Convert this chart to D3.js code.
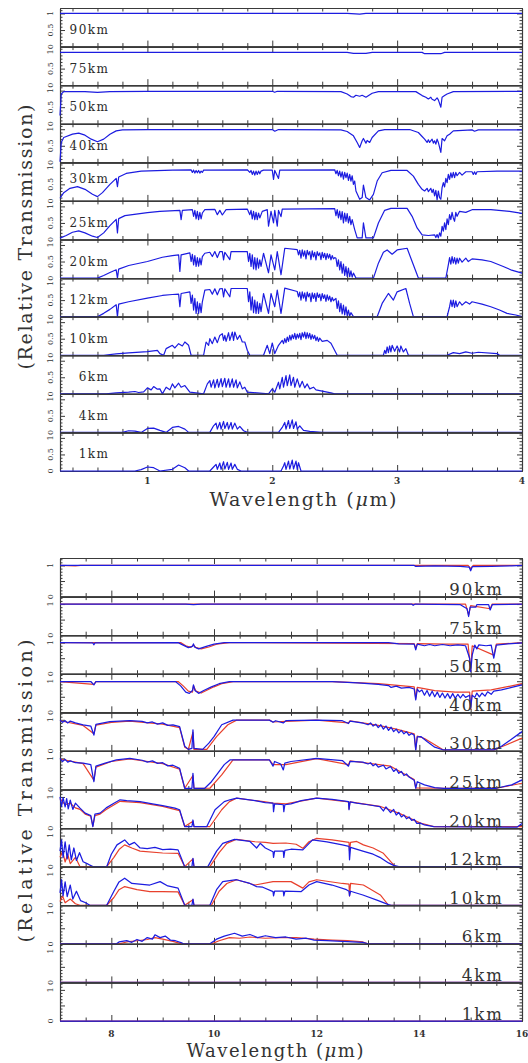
<!DOCTYPE html>
<html><head><meta charset="utf-8">
<script src="https://cdn.jsdelivr.net/npm/d3@7/dist/d3.min.js"></script>
<style>body{margin:0;background:#fff}svg{display:block}</style>
</head><body>
<script>
// ---------------- DATA: near-IR (top chart), [wavelength µm, relative transmission] ----------------
const topLabels = ['90km','75km','50km','40km','30km','25km','20km','12km','10km','6km','4km','1km'];
const topXTicks = [1,2,3,4];
const topYLabels = [0,0.5,1];

const t90 = [[0.3,1],[2.6,1],[2.7,0.98],[2.75,1],[4,1]];
const t75 = [[0.3,0.99],[2.6,0.99],[2.65,0.96],[2.75,0.96],[2.8,0.99],[3.2,0.99],[3.22,0.95],[3.35,0.95],[3.38,0.99],[4,0.99]];
const t50 = [[0.3,0.25],[0.31,0.9],[0.33,0.97],[0.5,0.97],[0.6,0.95],[0.7,0.97],[1.0,0.98],[2.0,0.98],[2.02,0.95],[2.04,0.98],[2.55,0.97],[2.6,0.9],[2.63,0.82],[2.65,0.8],[2.67,0.86],[2.7,0.83],[2.72,0.86],[2.75,0.8],[2.8,0.92],[2.85,0.97],[3.15,0.97],[3.2,0.85],[3.23,0.8],[3.25,0.75],[3.27,0.8],[3.28,0.74],[3.3,0.7],[3.32,0.78],[3.33,0.72],[3.35,0.5],[3.36,0.8],[3.38,0.85],[3.4,0.9],[3.45,0.97],[4,0.98]];
const t40 = [[0.3,0.02],[0.31,0.6],[0.33,0.75],[0.4,0.85],[0.45,0.88],[0.5,0.82],[0.55,0.7],[0.6,0.62],[0.65,0.7],[0.7,0.85],[0.75,0.95],[0.8,0.98],[1.0,0.99],[2.0,0.99],[2.02,0.94],[2.05,0.99],[2.55,0.98],[2.6,0.93],[2.62,0.88],[2.65,0.8],[2.68,0.6],[2.7,0.45],[2.72,0.65],[2.73,0.72],[2.75,0.58],[2.76,0.66],[2.78,0.6],[2.8,0.75],[2.85,0.95],[2.9,0.99],[3.1,0.99],[3.17,0.9],[3.2,0.78],[3.22,0.7],[3.24,0.6],[3.25,0.68],[3.26,0.6],[3.28,0.7],[3.29,0.58],[3.3,0.65],[3.31,0.55],[3.32,0.7],[3.33,0.6],[3.35,0.3],[3.36,0.72],[3.38,0.65],[3.4,0.8],[3.42,0.85],[3.45,0.95],[3.6,0.98],[3.62,0.94],[3.65,0.98],[4,0.98]];
const t30 = [[0.3,0.08],[0.33,0.25],[0.38,0.38],[0.44,0.43],[0.5,0.35],[0.56,0.2],[0.6,0.13],[0.64,0.25],[0.7,0.5],[0.75,0.68],[0.76,0.43],[0.77,0.72],[0.83,0.83],[0.95,0.9],[1.2,0.93],[1.35,0.94],[1.36,0.86],[1.37,0.93],[1.38,0.84],[1.39,0.92],[1.4,0.85],[1.41,0.92],[1.42,0.84],[1.43,0.9],[1.44,0.86],[1.45,0.93],[1.8,0.94],[1.82,0.86],[1.83,0.92],[1.84,0.8],[1.85,0.9],[1.86,0.78],[1.87,0.9],[1.88,0.8],[1.89,0.9],[1.9,0.82],[1.91,0.9],[1.93,0.93],[2.0,0.93],[2.01,0.65],[2.02,0.92],[2.05,0.68],[2.06,0.93],[2.5,0.94],[2.51,0.82],[2.52,0.92],[2.53,0.76],[2.54,0.9],[2.55,0.72],[2.56,0.88],[2.57,0.66],[2.58,0.86],[2.59,0.7],[2.6,0.84],[2.61,0.62],[2.62,0.8],[2.63,0.6],[2.64,0.76],[2.65,0.5],[2.66,0.6],[2.67,0.3],[2.7,0.05],[2.72,0.1],[2.73,0.48],[2.75,0.1],[2.78,0.03],[2.81,0.2],[2.84,0.6],[2.88,0.85],[2.95,0.92],[3.08,0.92],[3.13,0.75],[3.17,0.5],[3.2,0.35],[3.22,0.3],[3.24,0.38],[3.25,0.28],[3.27,0.38],[3.28,0.25],[3.29,0.35],[3.3,0.15],[3.31,0.32],[3.32,0.03],[3.33,0.3],[3.34,0.1],[3.35,0.05],[3.36,0.4],[3.37,0.55],[3.38,0.42],[3.39,0.68],[3.4,0.55],[3.41,0.8],[3.42,0.65],[3.43,0.85],[3.44,0.7],[3.45,0.86],[3.46,0.7],[3.47,0.86],[3.48,0.76],[3.5,0.86],[3.52,0.78],[3.55,0.88],[3.6,0.88],[3.61,0.8],[3.62,0.88],[3.63,0.8],[3.64,0.88],[3.8,0.9],[4,0.9]];
const t25 = [[0.3,0.04],[0.35,0.12],[0.4,0.22],[0.45,0.26],[0.5,0.2],[0.56,0.1],[0.6,0.06],[0.65,0.2],[0.7,0.42],[0.75,0.61],[0.76,0.2],[0.77,0.63],[0.82,0.72],[1.0,0.81],[1.1,0.85],[1.26,0.88],[1.27,0.6],[1.28,0.88],[1.36,0.9],[1.37,0.7],[1.38,0.88],[1.39,0.62],[1.4,0.85],[1.41,0.6],[1.42,0.82],[1.43,0.62],[1.44,0.8],[1.46,0.9],[1.54,0.91],[1.56,0.75],[1.58,0.88],[1.6,0.74],[1.63,0.9],[1.8,0.92],[1.82,0.75],[1.83,0.88],[1.84,0.62],[1.85,0.85],[1.86,0.6],[1.87,0.82],[1.88,0.6],[1.89,0.8],[1.9,0.65],[1.92,0.85],[1.96,0.9],[1.97,0.4],[1.99,0.85],[2.01,0.5],[2.02,0.88],[2.04,0.4],[2.05,0.88],[2.07,0.69],[2.08,0.92],[2.5,0.93],[2.51,0.72],[2.52,0.9],[2.53,0.65],[2.54,0.86],[2.55,0.6],[2.56,0.84],[2.57,0.5],[2.58,0.8],[2.59,0.55],[2.6,0.78],[2.61,0.5],[2.62,0.7],[2.63,0.45],[2.64,0.6],[2.66,0.3],[2.68,0.05],[2.72,0.05],[2.73,0.5],[2.75,0.05],[2.81,0.05],[2.85,0.5],[2.9,0.88],[2.95,0.94],[3.08,0.94],[3.12,0.7],[3.16,0.35],[3.2,0.14],[3.25,0.12],[3.3,0.14],[3.31,0.06],[3.32,0.15],[3.33,0.05],[3.34,0.2],[3.35,0.1],[3.36,0.4],[3.37,0.25],[3.38,0.5],[3.39,0.3],[3.4,0.62],[3.41,0.45],[3.42,0.75],[3.43,0.6],[3.44,0.82],[3.45,0.65],[3.46,0.55],[3.47,0.82],[3.48,0.7],[3.5,0.85],[3.55,0.82],[3.6,0.9],[3.75,0.9],[3.9,0.85],[4,0.79]];
const t20 = [[0.3,0],[0.6,0],[0.65,0.08],[0.7,0.17],[0.75,0.25],[0.76,0],[0.77,0.27],[0.85,0.38],[1.0,0.5],[1.12,0.63],[1.2,0.68],[1.25,0.7],[1.26,0.2],[1.27,0.7],[1.34,0.76],[1.35,0.5],[1.36,0.72],[1.37,0.4],[1.38,0.68],[1.39,0.35],[1.4,0.62],[1.41,0.36],[1.42,0.6],[1.43,0.4],[1.44,0.65],[1.46,0.75],[1.5,0.78],[1.52,0.65],[1.54,0.8],[1.56,0.62],[1.58,0.8],[1.6,0.8],[1.61,0.55],[1.62,0.78],[1.66,0.56],[1.67,0.8],[1.8,0.8],[1.81,0.5],[1.82,0.75],[1.83,0.35],[1.84,0.7],[1.85,0.28],[1.86,0.62],[1.87,0.25],[1.88,0.6],[1.89,0.3],[1.9,0.55],[1.91,0.35],[1.93,0.75],[1.97,0.16],[1.99,0.7],[2.02,0.25],[2.04,0.8],[2.07,0.1],[2.1,0.9],[2.2,0.86],[2.21,0.7],[2.22,0.84],[2.23,0.6],[2.24,0.85],[2.25,0.66],[2.26,0.82],[2.27,0.58],[2.28,0.84],[2.29,0.7],[2.3,0.8],[2.31,0.56],[2.32,0.82],[2.33,0.64],[2.34,0.78],[2.35,0.55],[2.36,0.8],[2.37,0.68],[2.38,0.76],[2.39,0.56],[2.4,0.78],[2.41,0.62],[2.42,0.75],[2.43,0.56],[2.44,0.74],[2.45,0.6],[2.46,0.72],[2.47,0.55],[2.48,0.68],[2.49,0.58],[2.5,0.62],[2.51,0.6],[2.52,0.35],[2.53,0.55],[2.54,0.25],[2.55,0.5],[2.56,0.15],[2.57,0.42],[2.58,0.08],[2.59,0.35],[2.6,0.05],[2.61,0.3],[2.62,0.04],[2.63,0.22],[2.64,0.03],[2.65,0.15],[2.67,0],[2.81,0],[2.85,0.45],[2.89,0.78],[2.92,0.85],[2.96,0.72],[3.0,0.85],[3.08,0.9],[3.12,0.5],[3.17,0],[3.39,0],[3.41,0.4],[3.42,0.62],[3.43,0.42],[3.44,0.65],[3.45,0.45],[3.46,0.62],[3.47,0.42],[3.48,0.6],[3.49,0.45],[3.5,0.6],[3.52,0.48],[3.55,0.6],[3.57,0.5],[3.6,0.58],[3.68,0.55],[3.75,0.5],[3.85,0.35],[3.91,0.25],[4,0.15]];
const t12 = [[0.3,0],[0.6,0],[0.65,0.1],[0.7,0.22],[0.75,0.36],[0.76,0],[0.77,0.38],[0.85,0.45],[1.0,0.56],[1.12,0.64],[1.2,0.67],[1.25,0.68],[1.26,0.3],[1.27,0.7],[1.34,0.75],[1.35,0.4],[1.36,0.65],[1.37,0.2],[1.38,0.55],[1.39,0.1],[1.4,0.45],[1.41,0.1],[1.42,0.4],[1.43,0.12],[1.44,0.45],[1.46,0.8],[1.5,0.82],[1.52,0.68],[1.54,0.84],[1.56,0.66],[1.58,0.84],[1.6,0.85],[1.61,0.6],[1.62,0.84],[1.66,0.6],[1.67,0.85],[1.8,0.85],[1.81,0.45],[1.82,0.75],[1.83,0.2],[1.84,0.6],[1.85,0.12],[1.86,0.5],[1.87,0.1],[1.88,0.45],[1.89,0.1],[1.9,0.4],[1.91,0.15],[1.93,0.7],[1.97,0.1],[1.99,0.7],[2.02,0.3],[2.04,0.8],[2.07,0.1],[2.1,0.86],[2.2,0.76],[2.21,0.6],[2.22,0.74],[2.23,0.5],[2.24,0.75],[2.25,0.56],[2.26,0.72],[2.27,0.47],[2.28,0.74],[2.29,0.6],[2.3,0.7],[2.31,0.45],[2.32,0.72],[2.33,0.55],[2.34,0.7],[2.35,0.46],[2.36,0.72],[2.37,0.58],[2.38,0.68],[2.39,0.48],[2.4,0.7],[2.41,0.55],[2.42,0.66],[2.43,0.46],[2.44,0.66],[2.45,0.5],[2.46,0.62],[2.47,0.45],[2.48,0.58],[2.49,0.48],[2.5,0.52],[2.51,0.55],[2.52,0.25],[2.53,0.48],[2.54,0.15],[2.55,0.4],[2.56,0.08],[2.57,0.35],[2.58,0.05],[2.59,0.3],[2.6,0.03],[2.61,0.2],[2.62,0.02],[2.63,0.12],[2.65,0],[2.84,0],[2.88,0.4],[2.93,0.7],[2.97,0.5],[3.0,0.75],[3.07,0.85],[3.1,0.4],[3.13,0],[3.4,0],[3.42,0.3],[3.43,0.5],[3.44,0.3],[3.45,0.5],[3.46,0.28],[3.47,0.48],[3.48,0.3],[3.5,0.45],[3.52,0.35],[3.55,0.45],[3.58,0.38],[3.6,0.45],[3.68,0.38],[3.75,0.3],[3.82,0.2],[3.88,0.1],[3.95,0.05],[4,0]];
const t10 = [[0.3,0],[0.65,0],[0.75,0.04],[0.85,0.07],[1.0,0.11],[1.08,0.15],[1.1,0.05],[1.13,0],[1.15,0.2],[1.2,0.3],[1.22,0.22],[1.25,0.35],[1.28,0.28],[1.3,0.4],[1.33,0.3],[1.35,0],[1.45,0],[1.47,0.4],[1.49,0.3],[1.5,0.5],[1.52,0.35],[1.54,0.55],[1.56,0.38],[1.58,0.6],[1.6,0.65],[1.61,0.45],[1.62,0.6],[1.63,0.42],[1.65,0.68],[1.66,0.45],[1.68,0.7],[1.69,0.45],[1.7,0.7],[1.72,0.48],[1.74,0.6],[1.76,0.4],[1.78,0.4],[1.8,0.15],[1.82,0],[1.93,0],[1.96,0.3],[1.98,0.05],[2.0,0.37],[2.02,0.05],[2.05,0.3],[2.08,0.45],[2.09,0.35],[2.1,0.5],[2.11,0.38],[2.12,0.55],[2.13,0.42],[2.14,0.6],[2.15,0.46],[2.16,0.62],[2.17,0.5],[2.18,0.66],[2.19,0.48],[2.2,0.64],[2.21,0.52],[2.22,0.66],[2.23,0.47],[2.24,0.68],[2.25,0.55],[2.26,0.7],[2.27,0.5],[2.28,0.68],[2.29,0.52],[2.3,0.66],[2.31,0.48],[2.32,0.62],[2.33,0.5],[2.34,0.6],[2.35,0.44],[2.36,0.55],[2.37,0.42],[2.38,0.52],[2.4,0.42],[2.44,0.45],[2.47,0.36],[2.52,0],[2.89,0],[2.9,0.15],[2.91,0.05],[2.92,0.25],[2.93,0.08],[2.94,0.28],[2.95,0.1],[2.96,0.3],[2.98,0.12],[3.0,0.28],[3.02,0.1],[3.03,0.28],[3.05,0.1],[3.07,0.2],[3.09,0],[3.4,0],[3.45,0.08],[3.5,0.05],[3.55,0.1],[3.6,0.06],[3.65,0.09],[3.8,0.05],[3.82,0],[4,0]];
const t6 = [[0.3,0],[0.67,0],[0.75,0.03],[0.85,0.05],[0.9,0.07],[0.93,0.04],[0.97,0.06],[1.0,0.18],[1.03,0.12],[1.05,0.22],[1.08,0.14],[1.1,0.15],[1.12,0],[1.15,0.2],[1.18,0.12],[1.2,0.3],[1.22,0.18],[1.25,0.32],[1.27,0.2],[1.3,0.25],[1.34,0.05],[1.45,0],[1.48,0.3],[1.5,0.4],[1.51,0.2],[1.53,0.42],[1.54,0.18],[1.56,0.44],[1.57,0.2],[1.59,0.46],[1.6,0.22],[1.62,0.47],[1.63,0.2],[1.65,0.45],[1.66,0.2],[1.68,0.45],[1.69,0.2],[1.71,0.42],[1.72,0.18],[1.74,0.36],[1.76,0.15],[1.78,0.2],[1.8,0.05],[1.97,0],[2.0,0.15],[2.02,0.05],[2.05,0.35],[2.06,0.15],[2.08,0.5],[2.09,0.2],[2.11,0.55],[2.12,0.25],[2.14,0.57],[2.15,0.25],[2.17,0.5],[2.18,0.2],[2.2,0.45],[2.22,0.2],[2.24,0.38],[2.26,0.18],[2.28,0.3],[2.3,0.15],[2.33,0.2],[2.35,0.12],[2.4,0.08],[2.47,0.03],[2.5,0],[4,0]];
const t4 = [[0.3,0],[0.8,0],[0.85,0.05],[0.9,0.04],[0.95,0],[1.0,0.12],[1.05,0.13],[1.1,0.06],[1.15,0],[1.2,0.15],[1.25,0.18],[1.3,0.1],[1.33,0],[1.5,0],[1.53,0.2],[1.55,0.28],[1.56,0.1],[1.58,0.3],[1.59,0.1],[1.61,0.33],[1.62,0.12],[1.64,0.3],[1.65,0.1],[1.67,0.3],[1.68,0.1],[1.7,0.28],[1.72,0.1],[1.74,0.18],[1.77,0.05],[1.8,0],[2.05,0],[2.08,0.15],[2.1,0.3],[2.11,0.1],[2.13,0.36],[2.14,0.12],[2.16,0.38],[2.17,0.12],[2.19,0.32],[2.2,0.1],[2.22,0.2],[2.25,0.06],[2.3,0.03],[2.4,0],[4,0]];
const t1 = [[0.3,0],[0.9,0],[0.95,0.04],[1.0,0.12],[1.05,0.1],[1.1,0],[1.2,0.05],[1.25,0.18],[1.3,0.1],[1.33,0],[1.5,0],[1.53,0.12],[1.55,0.2],[1.56,0.05],[1.58,0.24],[1.59,0.05],[1.61,0.28],[1.62,0.06],[1.64,0.26],[1.65,0.05],[1.67,0.24],[1.68,0.05],[1.7,0.2],[1.72,0.05],[1.75,0],[2.07,0],[2.09,0.15],[2.1,0.25],[2.11,0.05],[2.13,0.3],[2.14,0.06],[2.16,0.33],[2.17,0.06],[2.19,0.3],[2.2,0.05],[2.21,0.25],[2.23,0],[4,0]];
const topSeries = [t90,t75,t50,t40,t30,t25,t20,t12,t10,t6,t4,t1];

// ---------------- DATA: thermal IR (bottom chart), blue and red series ----------------
const botLabels = ['90km','75km','50km','40km','30km','25km','20km','12km','10km','6km','4km','1km'];
const botXTicks = [8,10,12,14,16];
const botYLabels = [0,1];

const b90 = [[7,1],[13.9,1],[13.93,0.97],[14.3,0.99],[14.8,0.97],[14.97,0.95],[15.0,0.83],[15.03,0.96],[15.4,0.97],[15.8,0.99],[16,1]];
const r90 = [[7,1],[7.3,0.99],[7.4,1],[14.95,1],[15.0,0.9],[15.05,1],[16,1]];
const b75 = [[7,1],[9.45,1],[9.6,0.98],[9.75,1],[13.85,1],[13.88,0.96],[13.92,1],[14.8,0.98],[14.93,0.85],[14.96,0.6],[14.99,0.9],[15.1,0.9],[15.12,0.98],[15.35,0.98],[15.38,0.81],[15.42,0.98],[16,1]];
const r75 = [[7,1],[14.9,1],[14.96,0.65],[15.0,0.95],[15.38,0.85],[15.42,1],[16,1]];
const b50 = [[7,1],[7.64,0.99],[7.66,0.93],[7.68,0.99],[9.3,1],[9.4,0.92],[9.5,0.84],[9.58,0.88],[9.6,0.96],[9.62,0.86],[9.7,0.8],[9.85,0.88],[10.0,0.95],[10.2,1],[13.4,1],[13.6,0.96],[13.9,0.95],[13.93,0.77],[13.96,0.95],[14.1,0.9],[14.2,0.94],[14.3,0.9],[14.45,0.94],[14.6,0.9],[14.75,0.93],[14.9,0.9],[14.98,0.5],[15.0,0.07],[15.03,0.6],[15.08,0.92],[15.12,0.8],[15.16,0.93],[15.3,0.9],[15.4,0.92],[15.45,0.5],[15.5,0.92],[15.8,0.97],[16,0.99]];
const r50 = [[7,1],[9.35,1],[9.45,0.9],[9.55,0.85],[9.6,0.93],[9.65,0.84],[9.75,0.8],[9.9,0.86],[10.05,0.95],[10.3,1],[13.9,0.97],[13.93,0.82],[13.96,0.97],[14.5,0.95],[14.95,0.95],[15.0,0.1],[15.03,0.9],[15.45,0.6],[15.5,0.95],[16,1]];
const b40 = [[7,0.99],[7.6,0.99],[7.66,0.88],[7.7,0.99],[9.25,0.99],[9.35,0.85],[9.45,0.65],[9.52,0.61],[9.58,0.7],[9.6,0.88],[9.63,0.7],[9.7,0.61],[9.8,0.7],[9.95,0.82],[10.1,0.92],[10.3,0.99],[12.3,0.99],[12.8,0.95],[13.2,0.9],[13.4,0.86],[13.45,0.8],[13.55,0.84],[13.65,0.78],[13.8,0.8],[13.9,0.75],[13.93,0.4],[13.96,0.75],[14.0,0.66],[14.05,0.72],[14.1,0.55],[14.15,0.7],[14.2,0.52],[14.25,0.68],[14.3,0.5],[14.35,0.65],[14.4,0.48],[14.45,0.62],[14.5,0.46],[14.55,0.6],[14.6,0.45],[14.65,0.6],[14.7,0.45],[14.75,0.58],[14.8,0.46],[14.85,0.58],[14.9,0.48],[14.98,0.55],[15.0,0.14],[15.03,0.55],[15.08,0.48],[15.12,0.62],[15.17,0.5],[15.22,0.62],[15.28,0.52],[15.33,0.66],[15.4,0.58],[15.45,0.68],[15.6,0.72],[15.8,0.8],[16,0.88]];
const r40 = [[7,0.99],[7.66,0.9],[7.7,0.99],[9.3,0.99],[9.4,0.85],[9.5,0.68],[9.58,0.65],[9.6,0.85],[9.65,0.68],[9.75,0.62],[9.85,0.7],[10.0,0.82],[10.15,0.92],[10.4,0.99],[12.3,0.99],[13.2,0.92],[13.9,0.82],[13.93,0.45],[13.96,0.8],[14.3,0.7],[14.7,0.65],[14.98,0.65],[15.0,0.1],[15.03,0.68],[15.4,0.72],[15.8,0.85],[16,0.92]];
const b30 = [[7,0.99],[7.05,0.92],[7.1,0.97],[7.15,0.9],[7.2,0.96],[7.3,0.9],[7.45,0.84],[7.6,0.8],[7.66,0.51],[7.7,0.85],[7.97,0.94],[8.36,0.97],[8.6,0.95],[8.7,0.9],[8.8,0.93],[8.9,0.86],[9.0,0.9],[9.1,0.82],[9.2,0.84],[9.33,0.78],[9.43,0.15],[9.5,0.05],[9.57,0.08],[9.59,0.68],[9.61,0.08],[9.78,0.05],[9.9,0.25],[10.0,0.46],[10.15,0.84],[10.37,0.99],[11.08,0.99],[11.15,0.92],[11.2,0.97],[11.35,0.9],[11.4,0.97],[12.0,0.99],[12.5,0.97],[12.62,0.88],[12.65,0.96],[12.91,0.89],[13.0,0.84],[13.05,0.9],[13.1,0.8],[13.15,0.86],[13.2,0.75],[13.25,0.84],[13.3,0.7],[13.35,0.8],[13.4,0.66],[13.45,0.76],[13.5,0.62],[13.55,0.7],[13.6,0.58],[13.65,0.66],[13.7,0.55],[13.75,0.62],[13.8,0.5],[13.85,0.56],[13.9,0.5],[13.93,0.03],[13.96,0.45],[14.03,0.46],[14.15,0.3],[14.3,0.12],[14.47,0.03],[15.45,0.03],[15.6,0.15],[15.8,0.38],[16,0.62]];
const r30 = [[7,0.97],[7.45,0.82],[7.66,0.55],[7.7,0.83],[8.0,0.92],[8.36,0.96],[9.0,0.86],[9.33,0.75],[9.43,0.12],[9.5,0.05],[9.59,0.6],[9.61,0.05],[9.86,0.05],[10.05,0.46],[10.27,0.84],[10.44,0.99],[11.08,0.99],[11.15,0.93],[11.4,0.95],[12.0,0.99],[12.62,0.9],[12.65,0.97],[13.2,0.82],[13.55,0.7],[13.9,0.55],[13.93,0.05],[13.96,0.48],[14.1,0.4],[14.47,0.03],[15.45,0.03],[15.7,0.2],[16,0.41]];
const b25 = [[7,1.0],[7.05,0.9],[7.1,0.97],[7.15,0.88],[7.2,0.92],[7.3,0.86],[7.45,0.85],[7.6,0.8],[7.66,0.25],[7.7,0.75],[7.88,0.85],[8.1,0.95],[8.36,1.0],[8.6,0.94],[8.7,0.88],[8.8,0.92],[8.9,0.84],[9.0,0.86],[9.1,0.76],[9.2,0.78],[9.33,0.68],[9.43,0.04],[9.57,0.04],[9.59,0.52],[9.61,0.04],[9.82,0.04],[9.95,0.25],[10.05,0.47],[10.2,0.8],[10.31,0.95],[11.08,0.95],[11.15,0.75],[11.18,0.9],[11.3,0.82],[11.35,0.63],[11.38,0.85],[11.5,0.9],[12.0,1.0],[12.5,0.93],[12.62,0.75],[12.65,0.9],[12.9,0.88],[13.0,0.82],[13.05,0.86],[13.1,0.76],[13.15,0.82],[13.2,0.72],[13.3,0.78],[13.35,0.66],[13.44,0.74],[13.5,0.58],[13.55,0.66],[13.6,0.52],[13.65,0.58],[13.7,0.45],[13.75,0.5],[13.8,0.4],[13.9,0.3],[13.93,0.04],[13.96,0.25],[14.1,0.15],[14.3,0.06],[14.47,0.04],[15.5,0.04],[15.8,0.15],[16,0.31]];
const r25 = [[7,0.98],[7.45,0.83],[7.66,0.3],[7.7,0.72],[8.0,0.9],[8.36,0.98],[9.0,0.83],[9.33,0.65],[9.43,0.04],[9.59,0.45],[9.61,0.04],[9.92,0.04],[10.15,0.47],[10.37,0.95],[11.08,0.95],[11.15,0.8],[11.4,0.8],[12.0,0.99],[12.62,0.8],[12.65,0.92],[13.44,0.75],[13.9,0.32],[13.93,0.05],[14.47,0.04],[15.5,0.04],[16,0.2]];
const b20 = [[7,1.0],[7.03,0.7],[7.06,0.98],[7.1,0.68],[7.13,0.95],[7.16,0.62],[7.2,0.9],[7.25,0.6],[7.3,0.8],[7.39,0.64],[7.49,0.48],[7.6,0.4],[7.64,0.05],[7.68,0.45],[7.78,0.48],[7.9,0.65],[8.05,0.8],[8.17,0.91],[8.3,0.88],[8.56,0.85],[8.8,0.78],[9.0,0.72],[9.24,0.64],[9.33,0.59],[9.43,0.05],[9.57,0.05],[9.59,0.26],[9.61,0.05],[9.86,0.05],[10.02,0.59],[10.2,0.85],[10.31,0.91],[10.44,0.96],[10.8,0.88],[11.0,0.82],[11.15,0.8],[11.16,0.53],[11.18,0.78],[11.35,0.75],[11.36,0.53],[11.38,0.75],[11.5,0.78],[11.7,0.88],[12.0,0.96],[12.3,0.92],[12.62,0.85],[12.63,0.59],[12.65,0.84],[12.78,0.8],[13.0,0.75],[13.23,0.69],[13.3,0.55],[13.35,0.68],[13.44,0.5],[13.5,0.6],[13.55,0.42],[13.6,0.5],[13.65,0.36],[13.7,0.42],[13.75,0.3],[13.8,0.36],[13.85,0.25],[13.9,0.28],[13.95,0.15],[14.02,0.16],[14.1,0.1],[14.28,0.05],[15.9,0.03],[16,0.15]];
const r20 = [[7,0.95],[7.1,0.75],[7.2,0.8],[7.3,0.65],[7.39,0.6],[7.49,0.45],[7.6,0.38],[7.64,0.06],[7.68,0.4],[7.78,0.45],[7.9,0.6],[8.17,0.86],[8.56,0.82],[9.0,0.7],[9.33,0.56],[9.43,0.05],[9.59,0.22],[9.61,0.05],[9.92,0.05],[10.15,0.59],[10.3,0.85],[10.44,0.96],[11.0,0.84],[11.15,0.8],[11.4,0.78],[12.0,0.96],[12.62,0.84],[12.63,0.62],[12.65,0.84],[13.23,0.7],[13.6,0.48],[14.02,0.16],[14.28,0.05],[16,0.05]];
const b12 = [[7,0.5],[7.03,0.86],[7.06,0.3],[7.1,0.8],[7.14,0.25],[7.18,0.7],[7.22,0.22],[7.27,0.6],[7.32,0.2],[7.38,0.45],[7.45,0.16],[7.55,0.08],[7.64,0],[7.91,0],[8.0,0.4],[8.11,0.7],[8.26,0.86],[8.35,0.7],[8.45,0.78],[8.56,0.6],[8.7,0.58],[8.85,0.62],[9.0,0.55],[9.15,0.56],[9.3,0.54],[9.43,0],[9.57,0],[9.59,0.27],[9.61,0],[9.88,0],[10.05,0.5],[10.17,0.75],[10.4,0.88],[10.7,0.81],[10.83,0.6],[10.9,0.75],[11.0,0.6],[11.15,0.48],[11.16,0.3],[11.18,0.5],[11.35,0.5],[11.36,0.3],[11.38,0.52],[11.5,0.56],[11.73,0.54],[11.92,0.86],[12.2,0.8],[12.5,0.7],[12.63,0.65],[12.64,0.22],[12.66,0.62],[12.9,0.5],[13.1,0.4],[13.23,0.3],[13.4,0.12],[13.5,0.04],[13.6,0],[16,0]];
const r12 = [[7,0.3],[7.05,0.5],[7.1,0.15],[7.15,0.4],[7.2,0.1],[7.3,0.3],[7.39,0],[7.91,0],[8.05,0.3],[8.15,0.55],[8.26,0.7],[8.4,0.6],[8.56,0.5],[9.0,0.44],[9.3,0.43],[9.43,0],[9.59,0.25],[9.61,0],[9.92,0],[10.1,0.45],[10.25,0.75],[10.44,0.88],[10.8,0.8],[11.0,0.78],[11.15,0.75],[11.4,0.76],[11.6,0.72],[11.73,0.59],[11.85,0.8],[12.0,0.91],[12.3,0.86],[12.5,0.81],[12.63,0.78],[12.64,0.5],[12.66,0.78],[12.78,0.81],[12.91,0.7],[13.1,0.6],[13.3,0.43],[13.53,0],[16,0]];
const b10 = [[7,0.4],[7.03,0.82],[7.06,0.3],[7.1,0.75],[7.14,0.28],[7.2,0.65],[7.25,0.2],[7.32,0.45],[7.4,0.15],[7.5,0.08],[7.58,0],[7.91,0],[8.05,0.45],[8.15,0.75],[8.26,0.87],[8.4,0.7],[8.55,0.68],[8.75,0.65],[8.95,0.76],[9.1,0.62],[9.3,0.55],[9.43,0],[9.57,0],[9.59,0.2],[9.61,0],[9.92,0],[10.05,0.5],[10.17,0.76],[10.44,0.82],[10.7,0.7],[10.83,0.6],[10.95,0.58],[11.15,0.44],[11.16,0.3],[11.18,0.45],[11.35,0.45],[11.36,0.3],[11.38,0.45],[11.7,0.44],[11.85,0.65],[12.0,0.76],[12.3,0.65],[12.58,0.5],[12.63,0.45],[12.64,0.3],[12.66,0.45],[12.9,0.33],[13.2,0.15],[13.4,0.02],[13.45,0],[16,0]];
const r10 = [[7,0.12],[7.05,0.3],[7.1,0.08],[7.2,0.2],[7.3,0.05],[7.39,0],[7.91,0],[8.05,0.25],[8.15,0.5],[8.26,0.6],[8.5,0.5],[8.75,0.44],[9.0,0.44],[9.3,0.43],[9.43,0],[9.59,0.18],[9.61,0],[9.95,0],[10.1,0.45],[10.25,0.7],[10.44,0.82],[10.8,0.65],[11.15,0.76],[11.5,0.76],[11.73,0.55],[11.85,0.75],[12.0,0.82],[12.5,0.7],[12.63,0.68],[12.64,0.3],[12.66,0.7],[12.91,0.65],[13.24,0.33],[13.4,0],[16,0]];
const b6 = [[7,0],[8.1,0],[8.15,0.06],[8.3,0.1],[8.4,0.05],[8.5,0.14],[8.6,0.08],[8.7,0.2],[8.8,0.15],[8.85,0.29],[8.95,0.2],[9.05,0.25],[9.15,0.12],[9.25,0.1],[9.37,0.03],[9.4,0],[9.92,0],[10.05,0.15],[10.2,0.25],[10.4,0.34],[10.55,0.25],[10.7,0.3],[10.85,0.2],[11.0,0.26],[11.2,0.2],[11.4,0.22],[11.6,0.15],[11.8,0.18],[11.95,0.12],[12.2,0.1],[12.5,0.08],[12.9,0.05],[13.0,0],[16,0]];
const r6 = [[7,0],[8.15,0],[8.3,0.06],[8.5,0.1],[8.7,0.14],[8.85,0.2],[9.0,0.15],[9.2,0.08],[9.37,0],[9.95,0],[10.1,0.1],[10.3,0.2],[10.5,0.18],[10.7,0.22],[11.0,0.18],[11.3,0.2],[11.6,0.2],[11.95,0.15],[12.3,0.12],[12.6,0.1],[12.9,0.06],[13.0,0],[16,0]];
const b4 = [[7,0],[16,0]];
const r4 = [[7,0],[16,0]];
const b1 = [[7,0],[16,0]];
const r1 = [[7,0],[16,0]];
const botBlue = [b90,b75,b50,b40,b30,b25,b20,b12,b10,b6,b4,b1];
const botRed  = [r90,r75,r50,r40,r30,r25,r20,r12,r10,r6,r4,r1];

// ---------------- DRAWING ----------------
const W = 528, H = 1063;
const FONT = "'DejaVu Serif', 'Liberation Serif', serif";
const AX = '#3a3a3a', BLUE = '#1c1ce0', RED = '#e8402c';
const svg = d3.select('body').append('svg').attr('width', W).attr('height', H);

function fmt(v){ return v === 0.5 ? '0.5' : String(v); }

function drawChart(o) {
  const g = svg.append('g');
  const x = d3.scaleLinear().domain(o.xDomain).range([o.left, o.right]);
  const n = o.series.length;
  const ph = (o.bottom - o.top) / n;
  const minorX = d3.range(o.xMinorStart, o.xDomain[1] + 1e-9, o.xMinorStep).filter(v => !o.xMajor.some(m => Math.abs(m - v) < 1e-6));
  const yMinor = d3.range(0.1, o.yMax, 0.1).filter(v => Math.abs(v - 0.5) > 1e-6 && Math.abs(v - 1) > 1e-6);
  const yMajor = [0.5, 1];

  for (let i = 0; i < n; i++) {
    const pt = o.top + i * ph, pb = pt + ph;
    const y = d3.scaleLinear().domain([0, o.yMax]).range([pb, pt]);
    const ax = g.append('g').attr('class', 'ax');
    ax.append('g').attr('transform', `translate(0,${pb})`)
      .call(d3.axisBottom(x).tickValues(minorX).tickSizeInner(-3.5).tickSizeOuter(0).tickFormat(''));
    ax.append('g').attr('transform', `translate(0,${pb})`)
      .call(d3.axisBottom(x).tickValues(o.xMajor).tickSizeInner(-6).tickSizeOuter(0).tickFormat(''));
    ax.append('g').attr('transform', `translate(0,${pt})`)
      .call(d3.axisTop(x).tickValues(minorX).tickSizeInner(-3.5).tickSizeOuter(0).tickFormat(''));
    ax.append('g').attr('transform', `translate(0,${pt})`)
      .call(d3.axisTop(x).tickValues(o.xMajor).tickSizeInner(-6).tickSizeOuter(0).tickFormat(''));
    ax.append('g').attr('transform', `translate(${o.left},0)`)
      .call(d3.axisLeft(y).tickValues(yMinor).tickSizeInner(-2.5).tickSizeOuter(0).tickFormat(''));
    ax.append('g').attr('transform', `translate(${o.left},0)`)
      .call(d3.axisLeft(y).tickValues(yMajor).tickSizeInner(-5).tickSizeOuter(0).tickFormat(''));
    ax.append('g').attr('transform', `translate(${o.right},0)`)
      .call(d3.axisRight(y).tickValues(yMinor).tickSizeInner(-2.5).tickSizeOuter(0).tickFormat(''));
    ax.append('g').attr('transform', `translate(${o.right},0)`)
      .call(d3.axisRight(y).tickValues(yMajor).tickSizeInner(-5).tickSizeOuter(0).tickFormat(''));

    o.yLabels.forEach(v => {
      g.append('text').attr('transform', `translate(${o.left - 7},${y(v)}) rotate(-90)`)
        .attr('text-anchor', 'middle').attr('font-family', FONT).attr('font-size', 8)
        .attr('fill', '#333').text(fmt(v));
    });

    const line = d3.line().x(d => x(d[0])).y(d => y(d[1]));
    if (o.red) {
      g.append('path').datum(o.red[i]).attr('d', line).attr('fill', 'none')
        .attr('stroke', RED).attr('stroke-width', 1.2).attr('stroke-linejoin', 'round');
    }
    g.append('path').datum(o.series[i]).attr('d', line).attr('fill', 'none')
      .attr('stroke', BLUE).attr('stroke-width', o.red ? 1.25 : 1.2).attr('stroke-linejoin', 'round');

    const lab = o.labels[i];
    if (o.labelSide === 'left') {
      g.append('text').attr('x', o.labelX).attr('y', pt + (lab === '30km' ? 21 : 26))
        .attr('text-anchor', 'end').attr('font-family', FONT).attr('font-size', 12)
        .attr('letter-spacing', 1.5).attr('fill', '#2a2a2a').text(lab);
    } else {
      g.append('text').attr('x', o.labelX).attr('y', pb - 1.5)
        .attr('text-anchor', 'end').attr('font-family', FONT).attr('font-size', 16.5)
        .attr('letter-spacing', 2).attr('fill', '#333').text(lab);
    }
  }
  g.selectAll('.ax path.domain').attr('stroke', AX).attr('stroke-width', 1.1);
  g.selectAll('.ax line').attr('stroke', AX).attr('stroke-width', 1);

  o.xTicks.forEach(v => {
    g.append('text').attr('x', x(v)).attr('y', o.bottom + o.tickLabelDy)
      .attr('text-anchor', 'middle').attr('font-family', FONT).attr('font-size', 9)
      .attr('font-weight', 'bold').attr('fill', '#333').text(v);
  });

  const xt = g.append('text').attr('x', o.xTitle.cx).attr('y', o.xTitle.y)
    .attr('text-anchor', 'middle').attr('font-family', FONT).attr('font-size', o.xTitle.size)
    .attr('fill', '#333').attr('textLength', o.xTitle.len).attr('lengthAdjust', 'spacing');
  xt.append('tspan').text('Wavelength (');
  xt.append('tspan').attr('font-style', 'italic').text('\u03BC');
  xt.append('tspan').text('m)');

  g.append('text').attr('transform', `translate(${o.yTitle.x},${o.yTitle.cy}) rotate(-90)`)
    .attr('text-anchor', 'middle').attr('font-family', FONT).attr('font-size', o.yTitle.size)
    .attr('fill', '#333').attr('textLength', o.yTitle.len).attr('lengthAdjust', 'spacing')
    .text('(Relative Transmission)');
}

drawChart({
  left: 60, right: 522, top: 8, bottom: 471,
  xDomain: [0.3, 4], xMajor: [1, 2, 3], xMinorStart: 0.4, xMinorStep: 0.2,
  yMax: 1.165, yLabels: topYLabels,
  series: topSeries, labels: topLabels, labelSide: 'left', labelX: 109.5,
  xTicks: topXTicks, tickLabelDy: 13,
  xTitle: { cx: 303, y: 506, size: 19, len: 187 },
  yTitle: { x: 32, cy: 237, size: 19, len: 265 }
});

drawChart({
  left: 60, right: 522, top: 558, bottom: 1021,
  xDomain: [7, 16], xMajor: [8, 10, 12, 14], xMinorStart: 7.5, xMinorStep: 0.5,
  yMax: 1.24, yLabels: botYLabels,
  series: botBlue, red: botRed, labels: botLabels, labelSide: 'right', labelX: 504,
  xTicks: botXTicks, tickLabelDy: 16,
  xTitle: { cx: 275, y: 1057, size: 18, len: 177 },
  yTitle: { x: 32, cy: 791, size: 19, len: 303 }
});
</script>
</body></html>
